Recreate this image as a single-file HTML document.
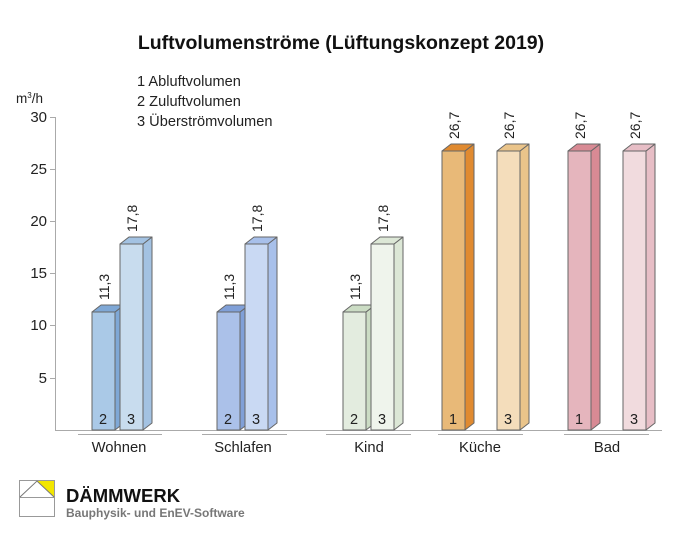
<!DOCTYPE html><html><head><style>body{margin:0;background:#fff}svg{display:block;font-family:"Liberation Sans",Arial,sans-serif}</style></head><body>
<svg width="682" height="546" viewBox="0 0 682 546">
<text x="341" y="49" text-anchor="middle" font-size="19.5" font-weight="bold" fill="#111">Luftvolumenströme (Lüftungskonzept 2019)</text>
<g font-size="14.6" fill="#222"><text x="137" y="86">1 Abluftvolumen</text><text x="137" y="106">2 Zuluftvolumen</text><text x="137" y="126">3 Überströmvolumen</text></g>
<text x="16" y="103" font-size="13.5" fill="#222">m<tspan font-size="8" dy="-5">3</tspan><tspan dy="5">/h</tspan></text>
<g stroke="#aaa" stroke-width="1"><line x1="55.5" y1="117" x2="55.5" y2="430"/><line x1="55" y1="430.5" x2="662" y2="430.5"/>
<line x1="50" y1="117.5" x2="55" y2="117.5"/><line x1="50" y1="169.5" x2="55" y2="169.5"/><line x1="50" y1="221.5" x2="55" y2="221.5"/><line x1="50" y1="273.5" x2="55" y2="273.5"/><line x1="50" y1="325.5" x2="55" y2="325.5"/><line x1="50" y1="378.5" x2="55" y2="378.5"/>
<line x1="78" y1="434.5" x2="162" y2="434.5"/><line x1="202" y1="434.5" x2="287" y2="434.5"/><line x1="326" y1="434.5" x2="411" y2="434.5"/><line x1="438" y1="434.5" x2="523" y2="434.5"/><line x1="564" y1="434.5" x2="649" y2="434.5"/></g>
<g font-size="15" fill="#222" text-anchor="end"><text x="47" y="122">30</text><text x="47" y="174">25</text><text x="47" y="226">20</text><text x="47" y="278">15</text><text x="47" y="330">10</text><text x="47" y="383">5</text></g>
<g font-size="14.8" fill="#222" text-anchor="middle"><text x="119" y="452">Wohnen</text><text x="243" y="452">Schlafen</text><text x="369" y="452">Kind</text><text x="480" y="452">Küche</text><text x="607" y="452">Bad</text></g>
<g stroke="#666" stroke-width="1" stroke-linejoin="round">
<polygon points="115,312 124,305 124,423 115,430" fill="#7fa8d6"/><polygon points="92,312 101,305 124,305 115,312" fill="#7fa8d6"/><rect x="92" y="312" width="23" height="118" fill="#aac9e7"/>
<polygon points="143,244 152,237 152,423 143,430" fill="#a3c2e2"/><polygon points="120,244 129,237 152,237 143,244" fill="#a3c2e2"/><rect x="120" y="244" width="23" height="186" fill="#c8dcee"/>
<polygon points="240,312 249,305 249,423 240,430" fill="#80a0d8"/><polygon points="217,312 226,305 249,305 240,312" fill="#80a0d8"/><rect x="217" y="312" width="23" height="118" fill="#abc1e9"/>
<polygon points="268,244 277,237 277,423 268,430" fill="#a8c0ea"/><polygon points="245,244 254,237 277,237 268,244" fill="#a8c0ea"/><rect x="245" y="244" width="23" height="186" fill="#c9d9f3"/>
<polygon points="366,312 375,305 375,423 366,430" fill="#cbdcc4"/><polygon points="343,312 352,305 375,305 366,312" fill="#cbdcc4"/><rect x="343" y="312" width="23" height="118" fill="#e3ecdf"/>
<polygon points="394,244 403,237 403,423 394,430" fill="#dce7d6"/><polygon points="371,244 380,237 403,237 394,244" fill="#dce7d6"/><rect x="371" y="244" width="23" height="186" fill="#eff4ec"/>
<polygon points="465,151 474,144 474,423 465,430" fill="#e08a30"/><polygon points="442,151 451,144 474,144 465,151" fill="#e08a30"/><rect x="442" y="151" width="23" height="279" fill="#e8b978"/>
<polygon points="520,151 529,144 529,423 520,430" fill="#eac48a"/><polygon points="497,151 506,144 529,144 520,151" fill="#eac48a"/><rect x="497" y="151" width="23" height="279" fill="#f4ddbb"/>
<polygon points="591,151 600,144 600,423 591,430" fill="#d88a94"/><polygon points="568,151 577,144 600,144 591,151" fill="#d88a94"/><rect x="568" y="151" width="23" height="279" fill="#e5b5bd"/>
<polygon points="646,151 655,144 655,423 646,430" fill="#e7bec6"/><polygon points="623,151 632,144 655,144 646,151" fill="#e7bec6"/><rect x="623" y="151" width="23" height="279" fill="#f1dbde"/>
</g>
<g font-size="14.5" fill="#222" text-anchor="middle"><text x="103" y="424">2</text><text x="131" y="424">3</text><text x="228" y="424">2</text><text x="256" y="424">3</text><text x="354" y="424">2</text><text x="382" y="424">3</text><text x="453" y="424">1</text><text x="508" y="424">3</text><text x="579" y="424">1</text><text x="634" y="424">3</text></g>
<g font-size="14" fill="#222">
<text transform="translate(109,300) rotate(-90)">11,3</text><text transform="translate(137,232) rotate(-90)">17,8</text>
<text transform="translate(234,300) rotate(-90)">11,3</text><text transform="translate(262,232) rotate(-90)">17,8</text>
<text transform="translate(360,300) rotate(-90)">11,3</text><text transform="translate(388,232) rotate(-90)">17,8</text>
<text transform="translate(459,139) rotate(-90)">26,7</text><text transform="translate(514,139) rotate(-90)">26,7</text>
<text transform="translate(585,139) rotate(-90)">26,7</text><text transform="translate(640,139) rotate(-90)">26,7</text>
</g>
<g stroke="#999" stroke-width="1" fill="none"><rect x="19.5" y="480.5" width="35" height="36"/><line x1="19.5" y1="497.5" x2="54.5" y2="497.5"/></g>
<polygon points="37,481 54,481 54,497" fill="#f2e600"/>
<polyline points="20,497 37,481 54,497" fill="none" stroke="#777"/>
<text x="66" y="502" font-size="18.5" font-weight="bold" fill="#111">DÄMMWERK</text>
<text x="66" y="517" font-size="12" font-weight="bold" fill="#777">Bauphysik- und EnEV-Software</text>
</svg></body></html>
